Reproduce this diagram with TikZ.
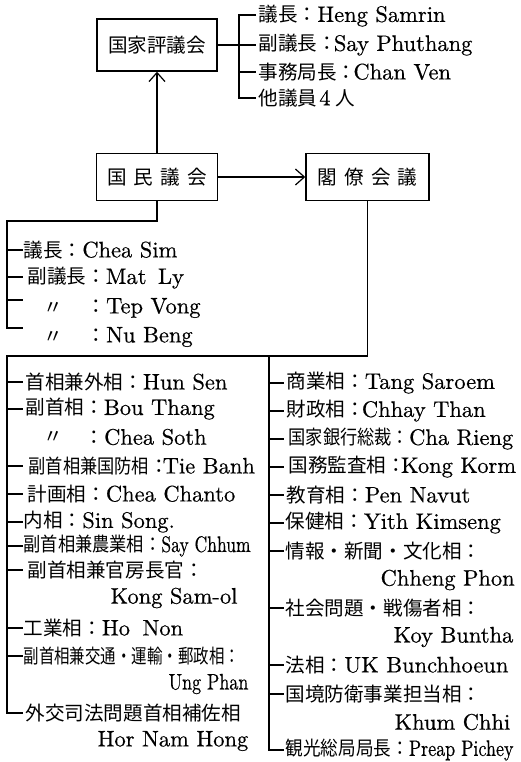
\documentclass[tikz,border=0pt]{standalone}
\usepackage{fontspec}
\usepackage{graphicx}
\setmainfont{lmroman10-regular.otf}[FakeBold=0.5]
\newfontfamily\cjk{Noto Sans CJK JP}[Scale=0.87]
\usetikzlibrary{arrows.meta}
\newcommand\J[1]{{\cjk #1}}
\newcommand\nar[2][0.88]{\scalebox{#1}[1]{#2}}
\begin{document}
\begin{tikzpicture}[x=1pt,y=-1pt,line width=1.2pt,
  box/.style={draw,line width=1.4pt,inner sep=0pt,font=\fontsize{22.5}{26}\selectfont},
  txt/.style={anchor=west,inner sep=0pt,font=\fontsize{22.5}{26}\selectfont},
  arr/.style={-{Straight Barb[length=9pt,width=16pt,line width=1.2pt]}}]
\useasboundingbox (0,0) rectangle (520,762);
% boxes
\node[box,minimum width=120pt,minimum height=52pt] (top) at (157,45) {\J{国家評議会}};
\node[box,minimum width=121pt,minimum height=47pt] (na) at (157,177) {\J{国\hspace{7pt}民\hspace{7pt}議\hspace{7pt}会}};
\node[box,minimum width=123pt,minimum height=47pt] (cab) at (367.5,177) {\J{閣\hspace{7pt}僚\hspace{7pt}会\hspace{7pt}議}};
\draw[arr] (na) -- (top);
\draw[arr] (na) -- (cab);
% state council list
\draw (256,15) -- (239,15) -- (239,98) -- (256,98);
\draw (top.east) -- (256,45);
\draw (239,72) -- (256,72);
\node[txt] (h1) at (258,16) {\J{議長：}Heng Samrin};
\node[txt] (h2) at (258,45) {\J{副議長：}\hspace{-3pt}Say Phuthang};
\node[txt] (h3) at (258,72) {\J{事務局長：}\hspace{-3pt}Chan Ven};
\node[txt] (h4) at (258,98) {\J{他議員}\hspace{2pt}4\hspace{5pt}\J{人}};
% national assembly list
\coordinate (lx) at (7,0);
\coordinate (naj) at (157,221);
\draw (na.south) -- (naj) -- (naj -| lx) -- (7,328) -- (23,328);
\draw (7,250) -- (23,250);
\draw (7,277) -- (23,277);
\draw (7,300) -- (23,300);
\node[txt] (n1) at (23,250) {\J{議長：}Chea Sim};
\node[txt] (n2) at (27,278) {\J{副議長：}Mat\hspace{4pt} Ly};
\node[txt] (n3d) at (43,308) {\J{〃}};
\node[txt] (n3) at (86,308) {\J{：}Tep Vong};
\node[txt] (n4d) at (43,337) {\J{〃}};
\node[txt] (n4) at (86,337) {\J{：}Nu Beng};
% cabinet
\coordinate (cj) at (367.5,356);
\coordinate (rj) at (269,356);
\draw (cab.south) -- (cj) -- (cj -| lx) -- (7,713) -- (23,713);
\draw (rj) -- (269,750) -- (284,750);
\foreach \y in {382,409,466,494,522,546,570,628,656} \draw (7,\y) -- (23,\y);
\foreach \y in {383,411,439,467,495,523,551,608,665,694} \draw (269,\y) -- (284,\y);
% left column
\node[txt] (c1) at (25,382) {\J{首相兼外相：}Hun Sen};
\node[txt] (c2) at (25,409) {\J{副首相：}Bou Thang};
\node[txt] (c3d) at (43,437) {\J{〃}};
\node[txt] (c3) at (84,437) {\J{：}Chea Soth};
\node[txt] (c4) at (28,466) {\nar[0.88]{\J{副首相兼国防相}}\J{：}\hspace{-6pt}Tie Banh};
\node[txt] (c5) at (27,494) {\J{計画相：}Chea Chanto};
\node[txt] (c6) at (23,522) {\J{内相：}Sin Song.};
\node[txt] (c7) at (23,546) {\nar[0.88]{\J{副首相兼農業相：}}\nar[0.78]{Say Chhum}};
\node[txt] (c8) at (27,570) {\J{副首相兼官房長官：}};
\node[txt] (c9) at (110,598) {Kong Sam-ol};
\node[txt] (c10) at (23,628) {\J{工業相：}Ho\hspace{5pt} Non};
\node[txt] (c11) at (23,656) {\nar[0.79]{\J{副首相兼交通・運輸・郵政相：}}};
\node[txt] (c12) at (168,684) {\nar[0.8]{Ung Phan}};
\node[txt] (c13) at (25,713) {\J{外交司法問題首相補佐相}};
\node[txt] (c14) at (97,741) {Hor Nam Hong};
% right column
\node[txt] (d1) at (286,383) {\J{商業相：}Tang Saroem};
\node[txt] (d2) at (286,411) {\J{財政相：}\hspace{-3pt}Chhay Than};
\node[txt] (d3) at (288,439) {\nar[0.88]{\J{国家銀行総裁：}}Cha Rieng};
\node[txt] (d4) at (288,467) {\J{国務監査相：}\hspace{-5pt}Kong Korm};
\node[txt] (d5) at (286,495) {\J{教育相：}Pen Navut};
\node[txt] (d6) at (285,523) {\J{保健相：}Yith Kimseng};
\node[txt] (d7) at (285,551) {\J{情報・新聞・文化相：}};
\node[txt] (d8) at (380,580) {Chheng Phon};
\node[txt] (d9) at (285,608) {\J{社会問題・戦傷者相：}};
\node[txt] (d10) at (393,637) {Koy Buntha};
\node[txt] (d11) at (285,665) {\J{法相：}UK Bunchhoeun};
\node[txt] (d12) at (285,694) {\J{国境防衛事業担当相：}};
\node[txt] (d13) at (394,722) {Khum Chhi};
\node[txt] (d14) at (285,750) {\nar[0.9]{\J{観光総局局長：}}\nar[0.8]{Preap Pichey}};
\end{tikzpicture}
\end{document}
